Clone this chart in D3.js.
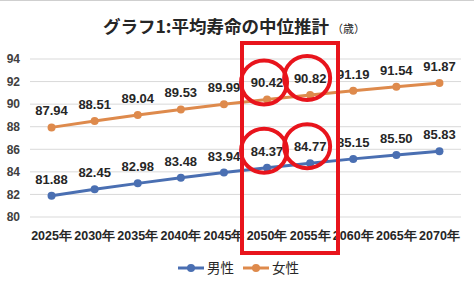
<!DOCTYPE html>
<html>
<head>
<meta charset="utf-8">
<script src="https://cdn.jsdelivr.net/npm/d3@7"></script>
<style>
  body { margin: 0; background: #fff; }
  svg { display: block; font-family: "Noto Sans CJK JP", "Liberation Sans", sans-serif; }
</style>
</head>
<body>
<div class="chart"></div>
<script>
const years = ["2025年", "2030年", "2035年", "2040年", "2045年", "2050年", "2055年", "2060年", "2065年", "2070年"];
const male = [81.88, 82.45, 82.98, 83.48, 83.94, 84.37, 84.77, 85.15, 85.50, 85.83];
const female = [87.94, 88.51, 89.04, 89.53, 89.99, 90.42, 90.82, 91.19, 91.54, 91.87];
const yTicks = [80, 82, 84, 86, 88, 90, 92, 94];

const width = 474, height = 287;
const svg = d3.select(".chart").append("svg")
    .attr("width", width)
    .attr("height", height);

// thin frame line at the top like the screenshot
svg.append("line")
    .attr("x1", 0).attr("x2", width).attr("y1", 0.5).attr("y2", 0.5)
    .attr("stroke", "#cfcfcf");

const x = d3.scaleBand().domain(years).range([30, 461]);
const y = d3.scaleLinear().domain([80, 94]).range([217, 59]);

// gridlines
svg.append("g").selectAll("line")
    .data(yTicks)
    .join("line")
    .attr("x1", 30).attr("x2", 461)
    .attr("y1", d => y(d)).attr("y2", d => y(d))
    .attr("stroke", "#d9d9d9")
    .attr("stroke-width", 1);

// y axis labels
const yAxis = svg.append("g")
    .attr("transform", "translate(30,0)")
    .call(d3.axisLeft(y).tickValues(yTicks).tickSize(0).tickPadding(10).tickFormat(d3.format("d")));
yAxis.select(".domain").remove();
yAxis.selectAll("text")
    .attr("font-size", 12).attr("font-weight", 600).attr("fill", "#404040")
    .attr("font-family", "Liberation Sans, sans-serif");

// x axis labels
const xAxis = svg.append("g")
    .attr("transform", "translate(0,217)")
    .call(d3.axisBottom(x).tickSize(0).tickPadding(14));
xAxis.select(".domain").remove();
xAxis.selectAll("text")
    .attr("font-size", 12.5).attr("font-weight", 600).attr("fill", "#262626");

const cx = d => x(d) + x.bandwidth() / 2;

const series = [
    {name: "男性", values: male, color: "#4a6fb2"},
    {name: "女性", values: female, color: "#de8a4c"}
];

const line = d3.line()
    .x((d, i) => cx(years[i]))
    .y(d => y(d));

series.forEach(function (s) {
    svg.append("path")
        .datum(s.values)
        .attr("fill", "none")
        .attr("stroke", s.color)
        .attr("stroke-width", 3)
        .attr("d", line);

    svg.append("g").selectAll("circle")
        .data(s.values)
        .join("circle")
        .attr("cx", (d, i) => cx(years[i]))
        .attr("cy", d => y(d))
        .attr("r", 4)
        .attr("fill", s.color);

    svg.append("g").selectAll("text")
        .data(s.values)
        .join("text")
        .attr("x", (d, i) => cx(years[i]))
        .attr("y", d => y(d) - 12)
        .attr("text-anchor", "middle")
        .attr("font-family", "Liberation Sans, sans-serif")
        .attr("font-size", 13)
        .attr("font-weight", 600)
        .attr("fill", "#262626")
        .text(d => d.toFixed(2));
});

// title
const title = svg.append("text")
    .attr("x", 234).attr("y", 33)
    .attr("text-anchor", "middle")
    .attr("fill", "#262626");
title.append("tspan")
    .attr("font-size", 17.5).attr("font-weight", 700)
    .text("グラフ1:平均寿命の中位推計");
title.append("tspan")
    .attr("font-size", 11).attr("font-weight", 400)
    .attr("dx", 3)
    .text("（歳）");

// legend
const legend = svg.append("g").attr("transform", "translate(0,268)");
const legendX = [178, 243];
series.forEach(function (s, i) {
    const g = legend.append("g").attr("transform", "translate(" + legendX[i] + ",0)");
    g.append("line").attr("x1", 0).attr("x2", 26).attr("y1", 0).attr("y2", 0)
        .attr("stroke", s.color).attr("stroke-width", 3);
    g.append("circle").attr("cx", 13).attr("cy", 0).attr("r", 4).attr("fill", s.color);
    g.append("text").attr("x", 29).attr("y", 5)
        .attr("font-size", 13.5).attr("fill", "#262626")
        .text(s.name);
});

// red highlight annotations
svg.append("rect")
    .attr("x", 242).attr("y", 43)
    .attr("width", 96).attr("height", 210)
    .attr("fill", "none")
    .attr("stroke", "#e8141c")
    .attr("stroke-width", 4);

const marks = [
    {year: "2050年", v: female[5]},
    {year: "2055年", v: female[6]},
    {year: "2050年", v: male[5]},
    {year: "2055年", v: male[6]}
];
svg.append("g").selectAll("ellipse")
    .data(marks)
    .join("ellipse")
    .attr("cx", d => cx(d.year) - 3)
    .attr("cy", d => y(d.v) - 17)
    .attr("rx", 23)
    .attr("ry", 22)
    .attr("fill", "none")
    .attr("stroke", "#e8141c")
    .attr("stroke-width", 4);
</script>
</body>
</html>
